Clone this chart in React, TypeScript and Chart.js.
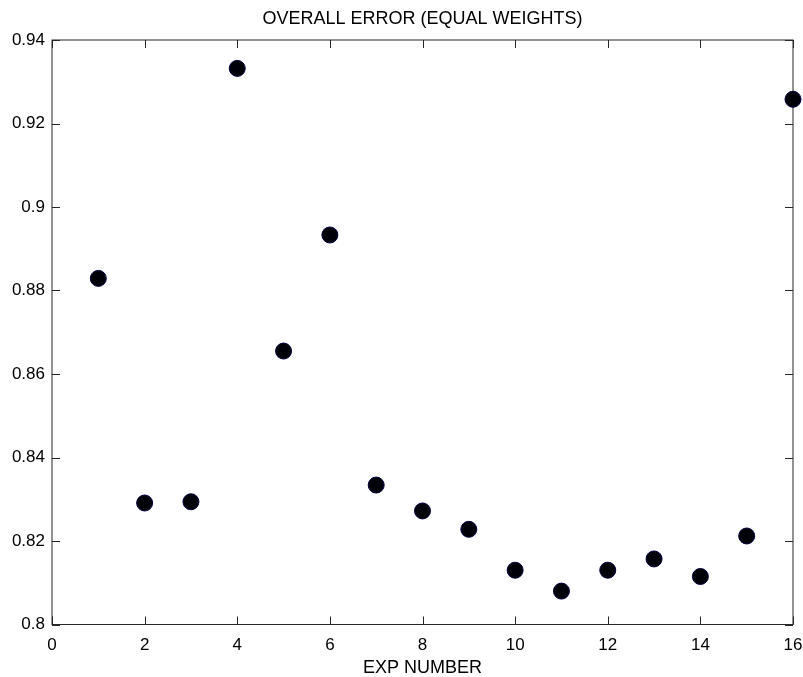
import React, { useEffect, useRef } from "react";
import { Chart, registerables } from "chart.js";

Chart.register(...registerables);

const expNumbers = [1, 2, 3, 4, 5, 6, 7, 8, 9, 10, 11, 12, 13, 14, 15, 16];
const overallError = [
  0.8829, 0.8291, 0.8294, 0.9332, 0.8655, 0.8933, 0.8334, 0.8272,
  0.8228, 0.813, 0.808, 0.813, 0.8157, 0.8115, 0.8212, 0.9258,
];
const chartTitle = "OVERALL ERROR (EQUAL WEIGHTS)";
const xLabel = "EXP NUMBER";

const FONT = "'Liberation Sans', Arial, Helvetica, sans-serif";

const boxPlugin = {
  id: "matlabBox",
  beforeDatasetsDraw(chart: any) {
    const { ctx, chartArea } = chart;
    const { left, right, top, bottom } = chartArea;
    const xs = chart.scales.x;
    const ys = chart.scales.y;
    ctx.save();
    ctx.strokeStyle = "#262626";
    ctx.lineWidth = 1;
    ctx.strokeRect(left, top, right - left, bottom - top);
    const tl = 8;
    ctx.beginPath();
    xs.ticks.forEach((t: any) => {
      const px = Math.round(xs.getPixelForValue(t.value)) + 0.5;
      ctx.moveTo(px, bottom);
      ctx.lineTo(px, bottom - tl);
      ctx.moveTo(px, top);
      ctx.lineTo(px, top + tl);
    });
    ys.ticks.forEach((t: any) => {
      const py = Math.round(ys.getPixelForValue(t.value)) + 0.5;
      ctx.moveTo(left, py);
      ctx.lineTo(left + tl, py);
      ctx.moveTo(right, py);
      ctx.lineTo(right - tl, py);
    });
    ctx.stroke();
    ctx.fillStyle = "#000";
    ctx.font = `18px ${FONT}`;
    ctx.textAlign = "center";
    ctx.textBaseline = "middle";
    const cx = (left + right) / 2;
    ctx.fillText(chartTitle, cx, 19);
    ctx.fillText(xLabel, cx, 668);
    ctx.restore();
  },
};

export default function App() {
  const ref = useRef<HTMLCanvasElement>(null);
  useEffect(() => {
    if (!ref.current) return;
    const chart = new Chart(ref.current, {
      type: "scatter",
      data: {
        datasets: [
          {
            data: expNumbers.map((x, i) => ({ x, y: overallError[i] })),
            backgroundColor: "#000008",
            borderColor: "#000040",
            borderWidth: 1,
            pointRadius: 8,
            pointHoverRadius: 8,
            showLine: false,
            clip: false,
          },
        ],
      },
      options: {
        animation: false,
        responsive: true,
        maintainAspectRatio: false,
        layout: { padding: { left: 0, top: 40, right: 10, bottom: 0 } },
        plugins: {
          legend: { display: false },
          title: { display: false },
          tooltip: { enabled: false },
        },
        scales: {
          x: {
            type: "linear",
            min: 0,
            max: 16,
            grid: { display: false, drawTicks: false, tickLength: 0 },
            border: { display: false },
            ticks: {
              stepSize: 2,
              padding: 11,
              color: "#000",
              font: { family: FONT, size: 17 },
              maxRotation: 0,
            },
            afterFit: (s: any) => {
              s.height = 52.5;
              s.paddingLeft = 0;
              s.paddingRight = 0;
            },
          },
          y: {
            type: "linear",
            min: 0.8,
            max: 0.94,
            grid: { display: false, drawTicks: false, tickLength: 0 },
            border: { display: false },
            ticks: {
              stepSize: 0.02,
              padding: 7,
              color: "#000",
              font: { family: FONT, size: 17 },
              callback: (v: any) => String(parseFloat(Number(v).toFixed(2))),
            },
            afterFit: (s: any) => {
              s.width = 52;
              s.paddingTop = 0;
              s.paddingBottom = 0;
            },
          },
        },
      },
      plugins: [boxPlugin],
    });
    return () => chart.destroy();
  }, []);
  return (
    <div
      style={{
        position: "fixed",
        left: 0,
        top: 0,
        width: 803,
        height: 677,
        background: "#fff",
      }}
    >
      <canvas ref={ref} />
    </div>
  );
}
